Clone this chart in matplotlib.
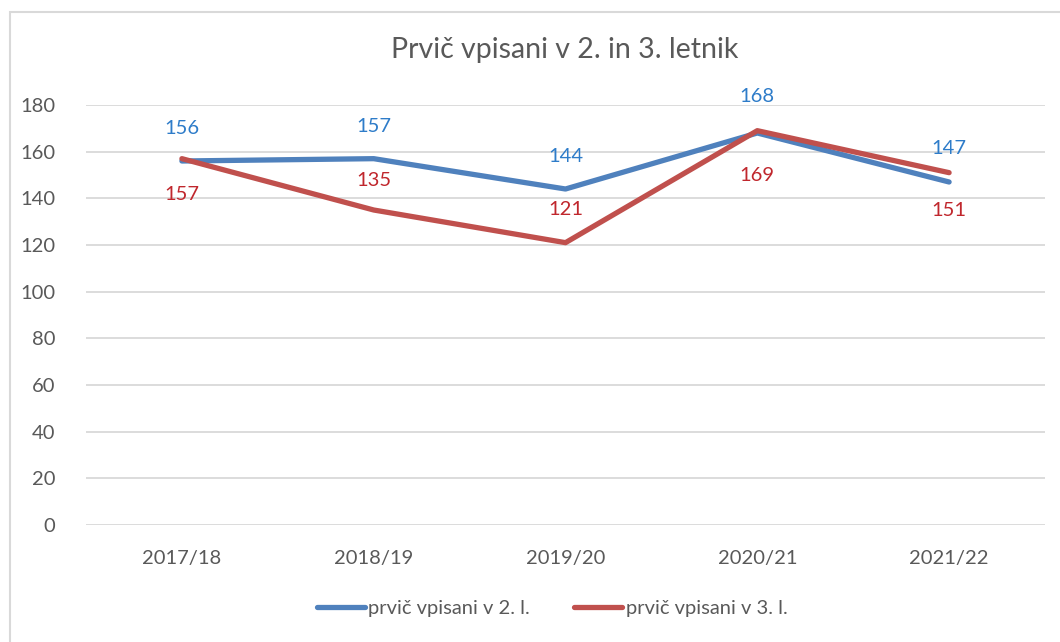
import matplotlib
matplotlib.use("Agg")
import matplotlib.pyplot as plt
from matplotlib.patches import Rectangle

categories = ["2017/18", "2018/19", "2019/20", "2020/21", "2021/22"]
series_2 = [156, 157, 144, 168, 147]
series_3 = [157, 135, 121, 169, 151]
labels = ["prvič vpisani v 2. l.", "prvič vpisani v 3. l."]
title = "Prvič vpisani v 2. in 3. letnik"
yticks = [0, 20, 40, 60, 80, 100, 120, 140, 160, 180]

# label offsets (pixels, positive = up)
off_2 = [33, 32, 33, 36, 33]
off_3 = [-36, 30, 33, -45, -38]

plt.rcParams['font.family'] = ['Lato', 'DejaVu Sans']

fig = plt.figure(figsize=(10.6, 6.42), dpi=100)
fig.patches.append(Rectangle((10/1060, -0.1), 1.2, (642-12)/642 + 0.1,
                             transform=fig.transFigure, fill=False,
                             edgecolor="#D9D9D9", linewidth=1.5))
ax = fig.add_axes([86/1060, (642-525)/642, (1045-86)/1060, (525-105)/642])

x = list(range(len(categories)))
c_blue, c_red = "#4F81BD", "#C0504D"
ax.plot(x, series_2, color=c_blue, lw=3.8, solid_capstyle="round", label=labels[0])
ax.plot(x, series_3, color=c_red, lw=3.8, solid_capstyle="round", label=labels[1])

for xi, v, o in zip(x, series_2, off_2):
    ax.annotate(str(v), (xi, v), xytext=(0, o), textcoords="offset pixels",
                ha="center", va="center", fontsize=14.5, color="#2E7CC9")
for xi, v, o in zip(x, series_3, off_3):
    ax.annotate(str(v), (xi, v), xytext=(0, o), textcoords="offset pixels",
                ha="center", va="center", fontsize=14.5, color="#C0272D")

ax.set_xlim(-0.5, len(categories) - 0.5)
ax.set_ylim(0, 180)
ax.set_yticks(yticks)
ax.set_xticks(x)
ax.set_xticklabels(categories)
ax.grid(axis="y", color="#D9D9D9", lw=1.3)
ax.set_axisbelow(True)
for s in ax.spines.values():
    s.set_visible(False)
ax.tick_params(axis="both", length=0, labelsize=14.5, labelcolor="#595959")
ax.tick_params(axis="x", pad=18)
ax.tick_params(axis="y", pad=22)

fig.text(565/1060, 1 - 50/642, title, fontsize=20.5, color="#595959",
         ha="center", va="center")

fig.legend(loc="center", bbox_to_anchor=(552/1060, 1 - 608/642), ncol=2,
           frameon=False, fontsize=14.5, labelcolor="#595959",
           handlelength=2.4, handletextpad=0.15, columnspacing=2.2)

fig.savefig("out.png", dpi=100)
